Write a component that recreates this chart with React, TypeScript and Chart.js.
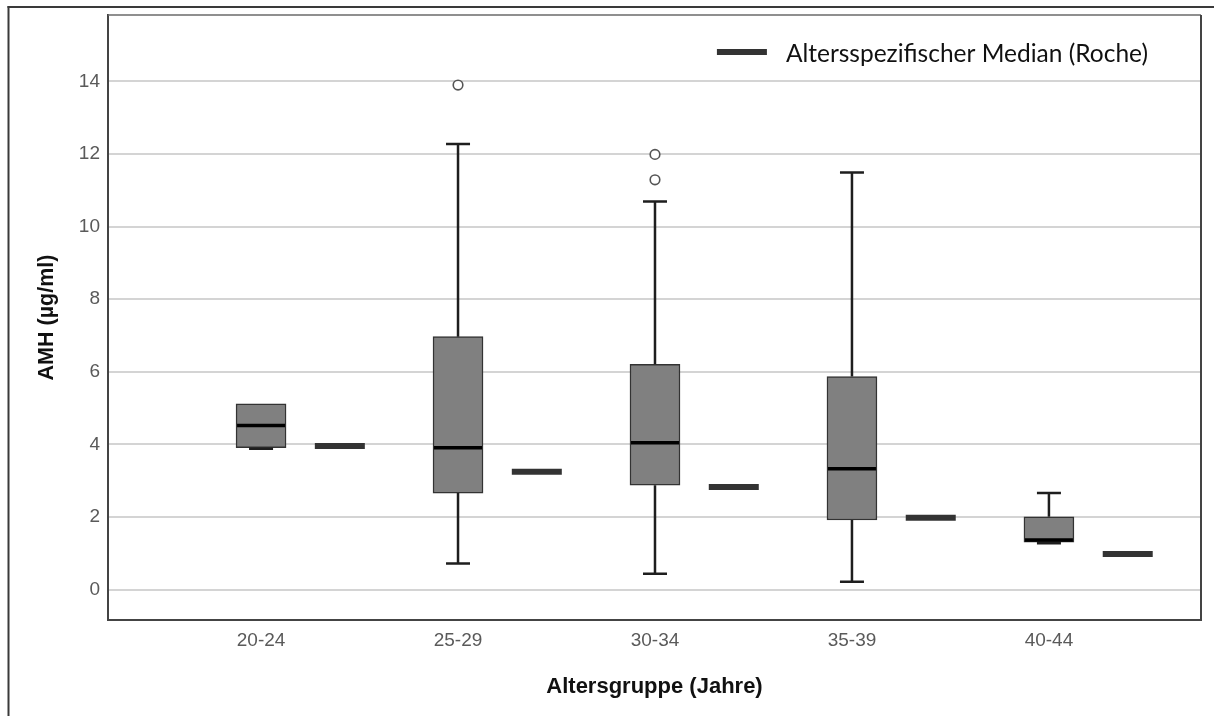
import React, { useEffect, useRef } from 'react';
import { Chart, registerables } from 'chart.js';

Chart.register(...registerables);

// ---------- data ----------
const categories = ['20-24', '25-29', '30-34', '35-39', '40-44'];
const whiskerLow = [3.88, 0.72, 0.44, 0.22, 1.28];
const q1 = [3.91, 2.66, 2.88, 1.92, 1.31];
const medians = [4.52, 3.91, 4.05, 3.33, 1.37];
const q3 = [5.12, 6.97, 6.21, 5.87, 2.01];
const whiskerHigh = [5.12, 12.28, 10.69, 11.49, 2.66];
const outliers: number[][] = [[], [13.9], [11.99, 11.29], [], []];
const rocheMedians = [3.96, 3.25, 2.83, 1.98, 0.98];
const yTicks = [0, 2, 4, 6, 8, 10, 12, 14];

const legendLabel = 'Altersspezifischer Median (Roche)';
const xTitle = 'Altersgruppe (Jahre)';
const yTitle = 'AMH (µg/ml)';

// ---------- style constants ----------
const ROCHE_OFFSET = 0.4;
const BOX_WIDTH = 50;
const CAP_HALF = 12;

const zeroPadding = (scale: any) => {
  scale.paddingTop = 0;
  scale.paddingBottom = 0;
  scale.paddingLeft = 0;
  scale.paddingRight = 0;
};

const boxPlugin = {
  id: 'boxWhiskers',
  afterDatasetsDraw(chart: any) {
    const { ctx, scales } = chart;
    const x = scales.x;
    const y = scales.y;
    ctx.save();
    categories.forEach((_, i) => {
      const cx = x.getPixelForValue(i);
      const yQ1 = y.getPixelForValue(q1[i]);
      const yQ3 = y.getPixelForValue(q3[i]);
      const yLo = y.getPixelForValue(whiskerLow[i]);
      const yHi = y.getPixelForValue(whiskerHigh[i]);
      const yMed = y.getPixelForValue(medians[i]);
      ctx.strokeStyle = '#1e1e1e';
      ctx.lineWidth = 2.5;
      ctx.lineCap = 'butt';
      if (whiskerHigh[i] > q3[i]) {
        ctx.beginPath();
        ctx.moveTo(cx, yQ3);
        ctx.lineTo(cx, yHi);
        ctx.moveTo(cx - CAP_HALF, yHi);
        ctx.lineTo(cx + CAP_HALF, yHi);
        ctx.stroke();
      }
      if (whiskerLow[i] < q1[i]) {
        ctx.beginPath();
        ctx.moveTo(cx, yQ1);
        ctx.lineTo(cx, yLo);
        ctx.moveTo(cx - CAP_HALF, yLo);
        ctx.lineTo(cx + CAP_HALF, yLo);
        ctx.stroke();
      }
      ctx.strokeStyle = '#000';
      ctx.lineWidth = 3.5;
      ctx.beginPath();
      ctx.moveTo(cx - BOX_WIDTH / 2 + 1, yMed);
      ctx.lineTo(cx + BOX_WIDTH / 2 - 1, yMed);
      ctx.stroke();
    });
    ctx.restore();
  },
};

const framePlugin = {
  id: 'frames',
  beforeDraw(chart: any) {
    const { ctx, width, height } = chart;
    ctx.save();
    ctx.fillStyle = '#fff';
    ctx.fillRect(0, 0, width, height);
    ctx.fillStyle = '#3a3a3a';
    ctx.fillRect(7.5, 6, 2, height - 6);
    ctx.fillRect(7.5, 6, width - 7.5, 2);
    ctx.restore();
  },
  afterDatasetsDraw(chart: any) {
    const { ctx, chartArea } = chart;
    ctx.save();
    ctx.strokeStyle = '#6a6a6a';
    ctx.lineWidth = 1.5;
    ctx.beginPath();
    ctx.moveTo(chartArea.left, chartArea.top);
    ctx.lineTo(chartArea.right, chartArea.top);
    ctx.stroke();
    ctx.strokeStyle = '#444';
    ctx.lineWidth = 2;
    ctx.beginPath();
    ctx.moveTo(chartArea.right, chartArea.top);
    ctx.lineTo(chartArea.right, chartArea.bottom);
    ctx.stroke();
    ctx.restore();
  },
};

const legendPlugin = {
  id: 'insideLegend',
  afterDraw(chart: any) {
    const { ctx, chartArea } = chart;
    ctx.save();
    ctx.font = '24.5px Lato';
    const w = ctx.measureText(legendLabel).width;
    const textRight = chartArea.right - 53;
    const textLeft = textRight - w;
    const cy = chartArea.top + 39;
    ctx.fillStyle = '#111';
    ctx.textBaseline = 'middle';
    ctx.textAlign = 'left';
    ctx.fillText(legendLabel, textLeft, cy);
    ctx.strokeStyle = '#333';
    ctx.lineWidth = 6;
    ctx.beginPath();
    ctx.moveTo(textLeft - 19 - 50, chartArea.top + 37);
    ctx.lineTo(textLeft - 19, chartArea.top + 37);
    ctx.stroke();
    ctx.restore();
  },
};

export default function App() {
  const canvasRef = useRef<HTMLCanvasElement | null>(null);

  useEffect(() => {
    if (!canvasRef.current) return;
    const boxData = categories.map((_, i) => ({ x: i, y: [q1[i], q3[i]] }));
    const outlierData: { x: number; y: number }[] = [];
    outliers.forEach((arr, i) => arr.forEach((v) => outlierData.push({ x: i, y: v })));
    const rocheData = rocheMedians.map((v, i) => ({ x: i + ROCHE_OFFSET, y: v }));

    const chart = new Chart(canvasRef.current, {
      type: 'bar',
      data: {
        datasets: [
          {
            label: 'Box',
            data: boxData as any,
            backgroundColor: '#808080',
            borderColor: '#333',
            borderWidth: 1.5,
            borderSkipped: false,
            barThickness: BOX_WIDTH,
            order: 2,
          } as any,
          {
            type: 'scatter',
            label: 'Ausreißer',
            data: outlierData,
            pointStyle: 'circle',
            pointRadius: 4.8,
            pointBorderWidth: 1.6,
            pointBorderColor: '#555',
            pointBackgroundColor: '#fff',
            order: 1,
          } as any,
          {
            type: 'scatter',
            label: legendLabel,
            data: rocheData,
            pointStyle: 'line',
            pointRadius: 25,
            pointBorderWidth: 6,
            pointBorderColor: '#333',
            order: 1,
          } as any,
        ],
      },
      options: {
        animation: false,
        responsive: true,
        maintainAspectRatio: false,
        layout: { autoPadding: false, padding: { left: 0, top: 15, right: 13, bottom: 0 } },
        plugins: {
          legend: { display: false },
          tooltip: { enabled: false },
        },
        scales: {
          x: {
            type: 'linear',
            offset: false,
            min: -0.777,
            max: 4.772,
            grid: { display: false, drawTicks: false, offset: false },
            border: { display: true, color: '#444', width: 2 },
            afterBuildTicks: (scale: any) => {
              scale.ticks = categories.map((_, i) => ({ value: i }));
            },
            afterFit: (scale: any) => {
              scale.height = 96;
              zeroPadding(scale);
            },
            ticks: {
              padding: 9,
              color: '#5a5a5a',
              font: { family: 'Liberation Sans', size: 19 },
              callback: (v: any) => categories[Math.round(Number(v))] ?? '',
              maxRotation: 0,
              autoSkip: false,
            },
            title: {
              display: true,
              text: xTitle,
              color: '#111',
              font: { family: 'Liberation Sans', size: 22, weight: 'bold' },
              padding: { top: 0, bottom: 16 },
            },
          },
          y: {
            type: 'linear',
            min: -0.835,
            max: 15.83,
            grid: { color: '#d4d4d4', lineWidth: 2, drawTicks: false },
            border: { display: true, color: '#444', width: 2 },
            afterBuildTicks: (scale: any) => {
              scale.ticks = yTicks.map((v) => ({ value: v }));
            },
            afterFit: (scale: any) => {
              scale.width = 108;
              zeroPadding(scale);
            },
            ticks: {
              padding: 8,
              color: '#5a5a5a',
              font: { family: 'Liberation Sans', size: 19 },
            },
            title: {
              display: true,
              text: yTitle,
              color: '#111',
              font: { family: 'Liberation Sans', size: 21.5, weight: 'bold' },
              padding: { top: 34, bottom: 0 },
            },
          },
        },
      } as any,
      plugins: [framePlugin, boxPlugin, legendPlugin],
    });
    return () => chart.destroy();
  }, []);

  return (
    <div style={{ position: 'fixed', left: 0, top: 0, width: 1214, height: 716, background: '#fff' }}>
      <canvas ref={canvasRef} />
    </div>
  );
}
